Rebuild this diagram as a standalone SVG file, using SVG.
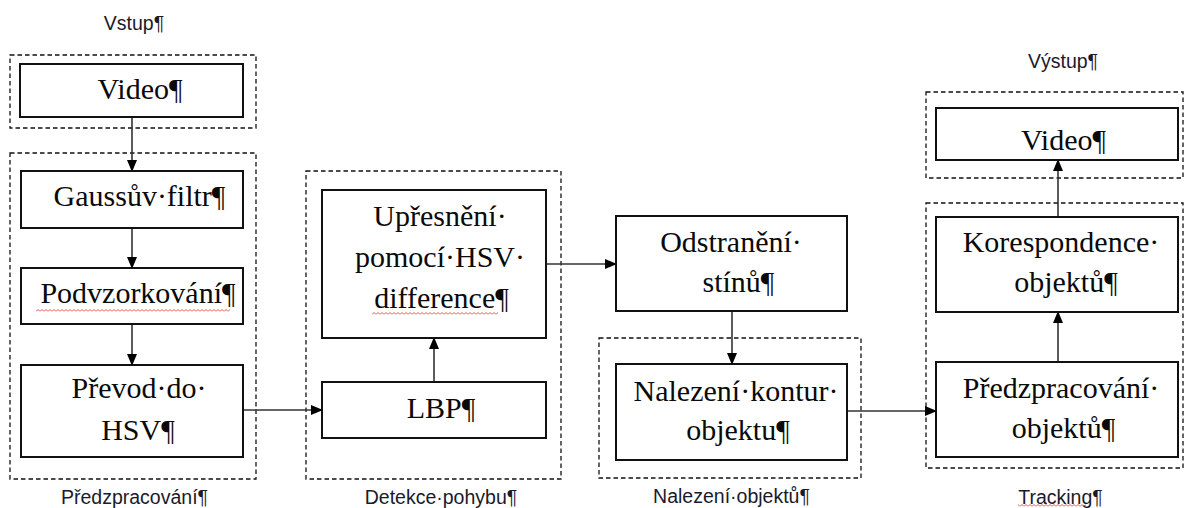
<svg xmlns="http://www.w3.org/2000/svg" width="1184" height="508" viewBox="0 0 1184 508">
<style>
.grp{fill:none;stroke:#111;stroke-width:1.3;stroke-dasharray:4.5 3}
.box{fill:#fff;stroke:#111;stroke-width:2}
.t{font-family:'Liberation Serif','Times New Roman','DejaVu Serif',serif;font-size:30px;fill:#0a0a0a;text-anchor:middle}
.lbl{font-family:'Liberation Sans',Arial,sans-serif;font-size:19.5px;fill:#1a1a2a;text-anchor:middle}
.con{fill:none;stroke:#333;stroke-width:1.6}
</style>
<defs>
<marker id="ah" markerWidth="12" markerHeight="12" viewBox="0 0 12 12" refX="11" refY="6" orient="auto" markerUnits="userSpaceOnUse">
<path d="M0 1 L12 6 L0 11 Z" fill="#000"/>
</marker>
<pattern id="sq" width="4" height="3" patternUnits="userSpaceOnUse">
<path d="M0 2.5 L2 0.5 L4 2.5" stroke="#e02020" fill="none" stroke-width="0.8"/>
</pattern>
</defs>
<g id="groups">
<rect class="grp" x="10" y="55" width="246" height="73"/>
<rect class="grp" x="10" y="153" width="246" height="326"/>
<rect class="grp" x="306" y="171" width="255" height="308"/>
<rect class="grp" x="599" y="338" width="262" height="140"/>
<rect class="grp" x="926" y="92" width="257" height="86"/>
<rect class="grp" x="926" y="203" width="257" height="265"/>
<text class="lbl" x="134" y="30">Vstup¶</text>
<text class="lbl" x="134.5" y="504">Předzpracování¶</text>
<text class="lbl" x="441" y="504">Detekce·pohybu¶</text>
<text class="lbl" x="731.5" y="503">Nalezení·objektů¶</text>
<text class="lbl" x="1063" y="68">Výstup¶</text>
<text class="lbl" x="1060.5" y="504">Tracking¶</text>
<rect x="1018" y="504" width="68" height="3" fill="url(#sq)"/>
</g>
<g id="connectors">
<line class="con" x1="132" y1="117" x2="132" y2="171" marker-end="url(#ah)"/>
<line class="con" x1="132" y1="228" x2="132" y2="268" marker-end="url(#ah)"/>
<line class="con" x1="132" y1="324" x2="132" y2="365" marker-end="url(#ah)"/>
<line class="con" x1="243" y1="410" x2="322" y2="410" marker-end="url(#ah)"/>
<line class="con" x1="434" y1="382" x2="434" y2="338" marker-end="url(#ah)"/>
<line class="con" x1="546" y1="264" x2="616" y2="264" marker-end="url(#ah)"/>
<line class="con" x1="732" y1="311" x2="732" y2="364" marker-end="url(#ah)"/>
<line class="con" x1="847" y1="411" x2="936" y2="411" marker-end="url(#ah)"/>
<line class="con" x1="1058" y1="362" x2="1058" y2="312" marker-end="url(#ah)"/>
<line class="con" x1="1058" y1="217" x2="1058" y2="160" marker-end="url(#ah)"/>
</g>
<g id="video-in">
<rect class="box" x="20" y="64" width="223" height="53"/>
<text class="t" x="140" y="99">Video¶</text>
</g>
<g id="gauss">
<rect class="box" x="21" y="171" width="222" height="57"/>
<text class="t" x="139.5" y="205.5">Gaussův·filtr¶</text>
</g>
<g id="podvzorkovani">
<rect class="box" x="21" y="268" width="222" height="56"/>
<text class="t" x="138" y="303">Podvzorkování¶</text>
<rect x="36" y="309" width="194" height="3" fill="url(#sq)"/>
</g>
<g id="prevod">
<rect class="box" x="21" y="365" width="222" height="92"/>
<text class="t" x="139" y="398">Převod·do·</text>
<text class="t" x="138" y="440">HSV¶</text>
</g>
<g id="upresneni">
<rect class="box" x="322" y="190" width="224" height="148"/>
<text class="t" x="440" y="225.5">Upřesnění·</text>
<text class="t" x="440" y="267">pomocí·HSV·</text>
<text class="t" x="441.5" y="308">difference¶</text>
<rect x="372" y="312" width="126" height="3" fill="url(#sq)"/>
</g>
<g id="lbp">
<rect class="box" x="322" y="382" width="224" height="56"/>
<text class="t" x="441" y="418">LBP¶</text>
</g>
<g id="odstraneni">
<rect class="box" x="616" y="216" width="231" height="95"/>
<text class="t" x="731" y="251.5">Odstranění·</text>
<text class="t" x="738.5" y="291.5">stínů¶</text>
</g>
<g id="nalezeni">
<rect class="box" x="616" y="364" width="231" height="96"/>
<text class="t" x="736" y="400.5">Nalezení·kontur·</text>
<text class="t" x="738" y="440">objektu¶</text>
</g>
<g id="video-out">
<rect class="box" x="936" y="108" width="242" height="52"/>
<text class="t" x="1063.5" y="150">Video¶</text>
</g>
<g id="korespondence">
<rect class="box" x="936" y="217" width="242" height="95"/>
<text class="t" x="1061" y="251.5">Korespondence·</text>
<text class="t" x="1066" y="291.5">objektů¶</text>
</g>
<g id="predzpracovani-obj">
<rect class="box" x="936" y="362" width="242" height="95"/>
<text class="t" x="1061" y="398">Předzpracování·</text>
<text class="t" x="1063.5" y="438">objektů¶</text>
</g>
</svg>
